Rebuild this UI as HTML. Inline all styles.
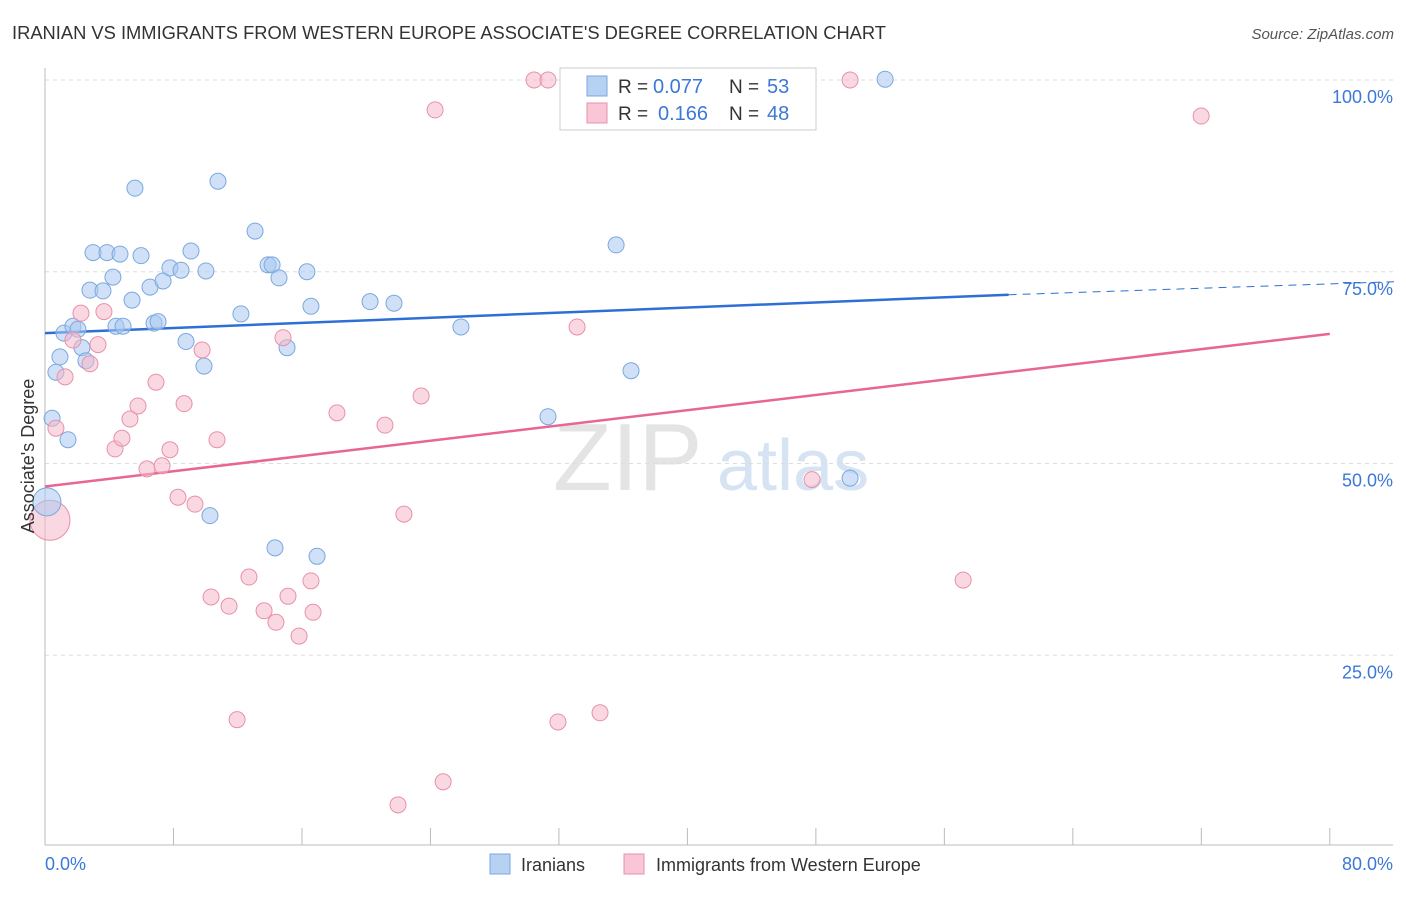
<!DOCTYPE html>
<html><head><meta charset="utf-8"><style>
body{margin:0;background:#fff;font-family:"Liberation Sans",sans-serif;}
svg text{font-family:"Liberation Sans",sans-serif;}
</style></head><body>
<svg id="chart" width="1406" height="892" xmlns="http://www.w3.org/2000/svg">
<text x="12" y="39" font-size="18" fill="#333" textLength="874" lengthAdjust="spacingAndGlyphs">IRANIAN VS IMMIGRANTS FROM WESTERN EUROPE ASSOCIATE'S DEGREE CORRELATION CHART</text>
<text x="1394" y="39" font-size="15" fill="#555" text-anchor="end" font-style="italic">Source: ZipAtlas.com</text>
<g>
<text x="553" y="490" font-size="96" fill="#e4e4e4" font-family="Liberation Serif">ZIP</text>
<text x="717" y="490" font-size="72" fill="#d6e3f3">atlas</text>
</g>
<g id="grid"></g>
<g id="axes"></g>
<g id="lines"></g>
<g id="points"></g>
<text transform="translate(34,456) rotate(-90)" font-size="18" fill="#333" text-anchor="middle">Associate's Degree</text>
<text x="45" y="870" font-size="18" fill="#3b78d8">0.0%</text>
<text x="1393" y="870" font-size="18" fill="#3b78d8" text-anchor="end">80.0%</text>
<g>
<rect x="560" y="68" width="256" height="62" fill="#fff" stroke="#ccc"/>
<rect x="587" y="76" width="20" height="20" fill="#b7d1f3" stroke="#7aa8e0"/>
<rect x="587" y="103" width="20" height="20" fill="#f8c6d6" stroke="#e890aa"/>
<text x="618" y="93" font-size="19" fill="#333">R =</text>
<text x="653" y="93" font-size="20" fill="#3b78d8">0.077</text>
<text x="729" y="93" font-size="19" fill="#333">N =</text>
<text x="767" y="93" font-size="20" fill="#3b78d8">53</text>
<text x="618" y="120" font-size="19" fill="#333">R =</text>
<text x="658" y="120" font-size="20" fill="#3b78d8">0.166</text>
<text x="729" y="120" font-size="19" fill="#333">N =</text>
<text x="767" y="120" font-size="20" fill="#3b78d8">48</text>
</g>
<g>
<rect x="490" y="854" width="20" height="20" fill="#b7d1f3" stroke="#7aa8e0"/>
<text x="521" y="871" font-size="18" fill="#333">Iranians</text>
<rect x="624" y="854" width="20" height="20" fill="#f8c6d6" stroke="#e890aa"/>
<text x="656" y="871" font-size="18" fill="#333">Immigrants from Western Europe</text>
</g>
</svg>
<script>
const blueX=[0.44,1.43,0.68,0.93,1.18,1.74,2.05,2.30,2.55,2.80,2.99,3.61,3.86,4.23,4.42,4.67,4.86,5.42,5.60,5.98,6.54,6.79,7.04,7.35,7.78,8.47,8.78,9.09,9.90,10.02,10.27,10.77,12.20,13.08,13.89,14.14,14.57,14.32,15.07,16.31,16.56,16.94,20.24,21.73,25.90,31.32,35.56,36.49,50.13,52.31];
const blueY=[55.9,53.1,61.9,63.9,67.0,67.9,67.5,65.1,63.4,72.6,77.5,72.5,77.5,74.3,67.9,77.3,67.9,71.3,85.9,77.1,73.0,68.3,68.5,73.8,75.5,75.2,65.9,77.7,62.7,75.1,43.2,86.8,69.5,80.3,75.9,75.9,74.2,39.0,65.1,75.0,70.5,37.9,71.1,70.9,67.8,56.1,78.5,62.1,48.1,100.1];
const pinkX=[0.68,1.25,1.74,2.24,2.80,3.30,3.67,4.36,4.79,5.29,5.79,6.35,6.91,7.29,7.78,8.28,8.66,9.34,9.78,10.34,10.71,11.46,11.96,12.70,13.64,14.38,14.82,15.13,15.82,16.56,16.69,18.18,21.17,21.98,22.35,23.42,24.29,24.79,30.45,31.32,31.94,33.13,34.56,47.76,50.13,57.17,71.99];
const pinkY=[54.6,61.3,66.1,69.6,63.0,65.5,69.8,51.9,53.3,55.8,57.5,49.3,60.6,49.7,51.8,45.6,57.8,44.7,64.8,32.6,53.1,31.4,16.6,35.2,30.8,29.3,66.4,32.7,27.5,34.7,30.6,56.6,55.0,5.5,43.4,58.8,96.1,8.5,100.0,100.0,16.3,67.8,17.5,47.9,100.0,34.8,95.3];
const bigBlue=[0.12,45.0], bigPink=[0.31,42.6];
const yTicks=[25,50,75,100];
const yTickLabels=["25.0%","50.0%","75.0%","100.0%"];
const xTicks=[0,8,16,24,32,40,48,56,64,72,80];
const blueTrend=[67.0,72.0,73.7];
const pinkTrend=[47.0,66.9];
const NS="http://www.w3.org/2000/svg";
const sx=v=>45+v*16.06, sy=v=>847-v*7.67;
function mk(tag,attrs,parent){const e=document.createElementNS(NS,tag);for(const k in attrs)e.setAttribute(k,attrs[k]);document.getElementById(parent).appendChild(e);return e;}
yTicks.forEach((t,i)=>{
 const l=mk('line',{x1:45,x2:1393,y1:sy(t),y2:sy(t),stroke:'#ddd','stroke-dasharray':'4,4'},'grid');
 
 
 const tx=mk('text',{x:1393,y:sy(t)+23,'font-size':18,fill:'#3b78d8','text-anchor':'end'},'grid');
 tx.textContent=yTickLabels[i];
 
 
});
let a=mk('line',{x1:45,x2:45,y1:68,y2:845,stroke:'#bbb'},'axes');


a=mk('line',{x1:45,x2:1393,y1:845,y2:845,stroke:'#bbb'},'axes');


xTicks.forEach(t=>{const l=mk('line',{x1:sx(t),x2:sx(t),y1:828,y2:845,stroke:'#bbb'},'axes');
 
 });
function dot(x,y,r,fill,stroke,name){const c=mk('circle',{cx:sx(x),cy:sy(y),r:r,fill:fill,'fill-opacity':0.55,stroke:stroke,'stroke-width':1},'points');
 
 }
dot(bigPink[0],bigPink[1],20,'#f5b8cb','#e890aa','immigrants-point');
dot(bigBlue[0],bigBlue[1],14,'#a9c8f0','#7aa8e0','iranians-point');
blueX.forEach((x,i)=>dot(x,blueY[i],8,'#a9c8f0','#7aa8e0','iranians-point'));
pinkX.forEach((x,i)=>dot(x,pinkY[i],8,'#f5b8cb','#e890aa','immigrants-point'));
let t=mk('line',{x1:sx(0),y1:sy(blueTrend[0]),x2:sx(60),y2:sy(blueTrend[1]),stroke:'#2d6fd6','stroke-width':2.5},'lines');


t=mk('line',{x1:sx(60),y1:sy(blueTrend[1]),x2:sx(84),y2:sy(blueTrend[2]),stroke:'#2d6fd6','stroke-width':1,'stroke-dasharray':'8,6'},'lines');


t=mk('line',{x1:sx(0),y1:sy(pinkTrend[0]),x2:sx(80),y2:sy(pinkTrend[1]),stroke:'#e86692','stroke-width':2.5},'lines');


</script>
</body></html>
